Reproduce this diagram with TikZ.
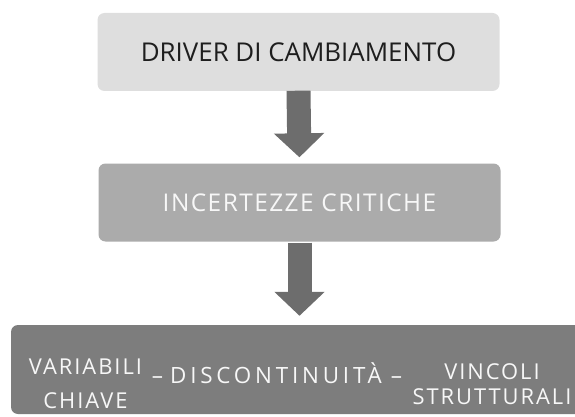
\documentclass[tikz,border=0pt]{standalone}
\usepackage{fontspec}
\setmainfont{Open Sans}
\usetikzlibrary{arrows.meta}
\definecolor{grigio1}{HTML}{DEDEDE}
\definecolor{grigio2}{HTML}{ABABAB}
\definecolor{grigio3}{HTML}{7D7D7D}
\definecolor{grigiofr}{HTML}{6D6D6D}
\definecolor{testoscuro}{HTML}{1E1E1E}
\definecolor{testochiaro}{HTML}{F7F7F7}
\begin{document}
\begin{tikzpicture}[x=1pt,y=-1pt,
	blocco/.style={rounded corners=7pt, inner sep=0pt, minimum width=402pt, minimum height=78pt},
	freccia/.style={draw=grigiofr, line width=24pt, -{Triangle[width=49pt,length=24pt]}}]
	\useasboundingbox (0,0) rectangle (575,417);
	%Blocco 1
	\node[blocco, fill=grigio1, text=testoscuro, font=\fontsize{25.9}{28}\selectfont] (driver) at (298.5,52) {DRIVER DI CAMBIAMENTO};
	%Blocco 2
	\node[blocco, fill=grigio2, text=testochiaro, font=\fontsize{24.4}{28}\selectfont\addfontfeatures{LetterSpace=6}] (incert) at (299.5,202.5) {INCERTEZZE CRITICHE};
	%Blocco 3
	\node[blocco, fill=grigio3, minimum width=579pt, minimum height=89pt] (fattori) at (300.5,369.5) {};
	%Testi blocco 3
	\node[text=testochiaro, align=center, inner sep=0pt, font=\fontsize{21.9}{34}\selectfont\addfontfeatures{LetterSpace=9}] (variabili) at (85.5,384) {VARIABILI\\CHIAVE};
	\node[text=testochiaro, anchor=base, inner sep=0pt, font=\fontsize{22.4}{26}\selectfont\addfontfeatures{LetterSpace=17}] (discont) at (277,383) {–\hspace{7pt}DISCONTINUITÀ\hspace{9pt}–};
	\node[text=testochiaro, align=center, inner sep=0pt, font=\fontsize{21.9}{25}\selectfont\addfontfeatures{LetterSpace=9}] (vincoli) at (492,384.5) {VINCOLI\\STRUTTURALI};
	%Frecce
	\draw[freccia, shorten <=-0.5pt, shorten >=6pt] (driver.south) -- (incert.north);
	\draw[freccia, shorten <=1pt, shorten >=9pt] (incert.south) -- (fattori.north -| incert.south);
\end{tikzpicture}
\end{document}
